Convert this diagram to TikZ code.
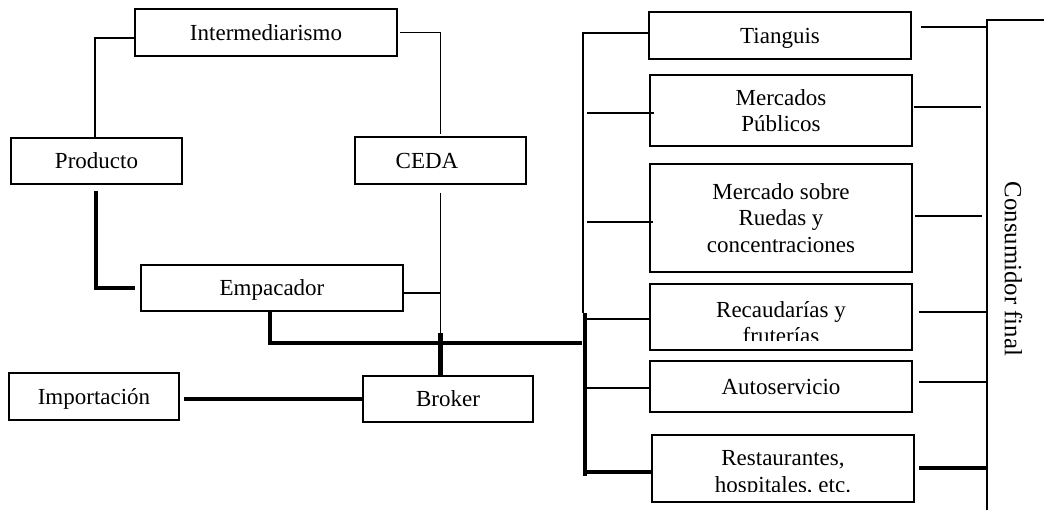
\documentclass[tikz,border=0pt]{standalone}
\usepackage{fontspec}
\setmainfont{Liberation Serif}
\usetikzlibrary{calc}
\tikzset{
  bx/.style 2 args={draw,line width=0.9pt,inner sep=0pt,
    minimum width={#1*0.5pt},minimum height={#2*0.5pt}},
  one/.style={text height=0.75em,text depth=0pt},
  cn/.style={line width=0.75pt},
  tk/.style={line width=2.1pt}}
\begin{document}
\begin{tikzpicture}[x=0.5pt,y=-0.5pt,
  font=\fontsize{11.5}{13.25}\selectfont]
\clip (0,0) rectangle (1044,509);
% boxes
\node[bx={262}{47},one] (inter) at (266,32.5) {Intermediarismo};
\node[bx={171}{46},one] (prod) at (96.5,161) {Producto};
\node[bx={171}{47}] (ceda) at (440.5,160.5) {};
\node[one] (cedat) at (427,160.5) {CEDA};
\node[bx={262}{46},one] (emp) at (272,288) {Empacador};
\node[bx={170}{47},one] (imp) at (94,396.5) {Importación};
\node[bx={170}{46},one] (brok) at (448,399) {Broker};
\node[bx={262}{47},one] (tian) at (780,35.5) {Tianguis};
\node[bx={262}{71},align=center] (merc) at (781,110.5) {Mercados\\Públicos};
\node[bx={262}{108},align=center] (rued) at (781,218) {Mercado sobre\\Ruedas y\\concentraciones};
\node[bx={262}{66}] (reca) at (781,317) {};
\begin{scope}
\clip (650,284) rectangle (912,340);
\node[align=center] (recat) at (781,322.6) {Recaudarías y\\fruterías};
\end{scope}
\node[bx={262}{51},one] (auto) at (781,386.5) {Autoservicio};
\node[bx={262}{67}] (rest) at (783,468.5) {};
\begin{scope}
\clip (652,435) rectangle (914,491);
\node[align=center] (restt) at (783,474) {Restaurantes,\\hospitales, etc.};
\end{scope}
\node[bx={113}{540}] (cons) at (1043.5,290) {};
\node[rotate=-90,font=\fontsize{12.4}{14}\selectfont] (const) at (1013.5,269) {Consumidor final};
% left part connectors
\draw[cn] ($(inter.west)+(0,5.5)$) -| ($(prod.north)+(-1.5,0)$);
\draw[cn] ($(inter.east)+(2,0)$) -| ($(ceda.north)+(0,-2)$);
\draw[tk,shorten <=3pt,shorten >=2.5pt] ($(prod.south)+(-0.5,0)$) |- (emp.west);
\coordinate (jE) at ($(ceda.south |- emp.east)+(0,5)$);
\coordinate (jB) at ($(ceda.south)+(0,148)$);
\draw[cn,shorten <=4pt] (ceda.south) -- (jB);
\draw[tk] (jB) -- (ceda.south |- brok.north);
\draw[cn] ($(emp.east)+(-2,5)$) -- (jE);
\draw[tk,shorten >=2pt] (brok.west) -- (brok.west -| imp.east);
% bus
\coordinate (busT) at (583,33);
\coordinate (busM) at (583,313);
\coordinate (busM2) at (585,313);
\coordinate (busB) at (585,476);
\coordinate (busJ) at (582,343);
\draw[tk] ($(emp.south)+(-2,0)$) |- (busJ);
\draw[cn] (tian.west |- busT) -- (busT) -- (busM);
\draw[tk] (busM2) -- (busB);
% left stubs
\coordinate (l1) at ($(merc.west)+(5,2.5)$);
\coordinate (l2) at ($(rued.west)+(4,4)$);
\coordinate (l3) at ($(reca.west)+(0,2)$);
\coordinate (l4) at ($(auto.west)+(0,1.5)$);
\coordinate (l5) at ($(rest.west)+(0,3.5)$);
\draw[cn,shorten <=2pt] (l1 -| busT) -- (l1);
\draw[cn,shorten <=2pt] (l2 -| busT) -- (l2);
\draw[cn] (l3 -| busM2) -- (l3);
\draw[cn] (l4 -| busM2) -- (l4);
\draw[tk] (l5 -| busM2) -- (l5);
% right stubs
\coordinate (r1) at ($(tian.east)+(9,-8.5)$);
\coordinate (r2) at ($(merc.east)+(1,-3.5)$);
\coordinate (r3) at ($(rued.east)+(2,-2)$);
\coordinate (r4) at ($(reca.east)+(6,-5)$);
\coordinate (r5) at ($(auto.east)+(6,-4.5)$);
\coordinate (r6) at ($(rest.east)+(4,-0.5)$);
\draw[cn] (r1) -- (r1 -| cons.west);
\draw[cn,shorten >=2.5pt] (r2) -- (r2 -| cons.west);
\draw[cn,shorten >=2pt] (r3) -- (r3 -| cons.west);
\draw[cn] (r4) -- (r4 -| cons.west);
\draw[cn] (r5) -- (r5 -| cons.west);
\draw[tk] (r6) -- (r6 -| cons.west);
\end{tikzpicture}
\end{document}
